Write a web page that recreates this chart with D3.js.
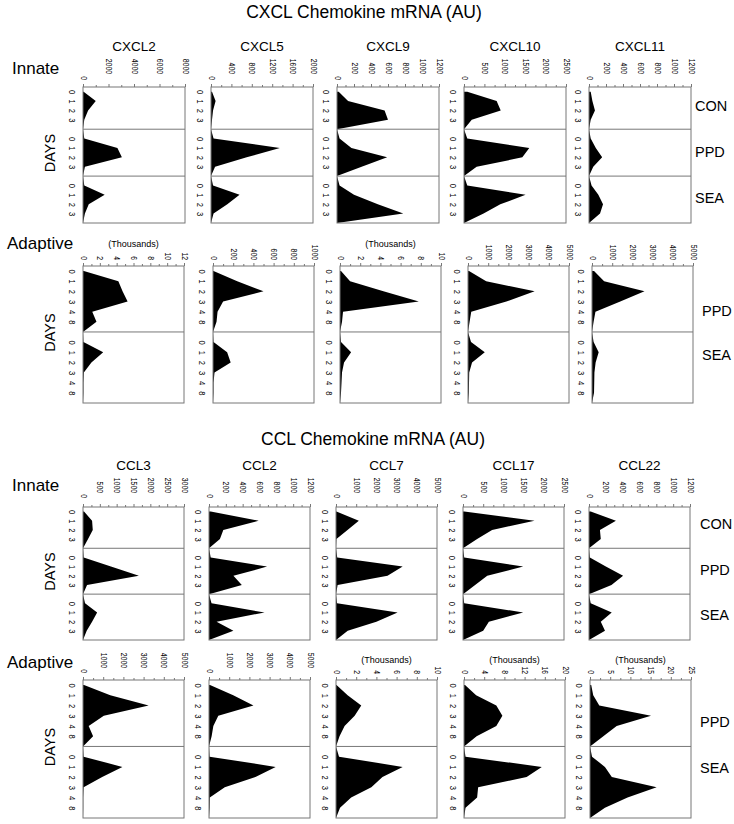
<!DOCTYPE html>
<html><head><meta charset="utf-8">
<script src="https://cdn.jsdelivr.net/npm/d3@7"></script>
<style>
body{margin:0;background:#fff;}
text{font-family:"Liberation Sans",Arial,sans-serif;fill:#000;}
</style></head><body>
<svg id="chart" width="734" height="824"></svg>
<script>
// ---------- DATA ----------
const cxclGenes = ["CXCL2","CXCL5","CXCL9","CXCL10","CXCL11"];
const cclGenes  = ["CCL3","CCL2","CCL7","CCL17","CCL22"];
const innateDays   = ["0","1","2","3"];
const adaptiveDays = ["0","1","2","3","4","8"];
const innateGroups   = ["CON","PPD","SEA"];
const adaptiveGroups = ["PPD","SEA"];

const cxclInnateTicks = [[0,2000,4000,6000,8000],[0,400,800,1200,1600,2000],[0,200,400,600,800,1000,1200],[0,500,1000,1500,2000,2500],[0,200,400,600,800,1000,1200]];
const cxclAdaptiveTicks = [[0,2,4,6,8,10,12],[0,200,400,600,800,1000],[0,2,4,6,8,10],[0,1000,2000,3000,4000,5000],[0,1000,2000,3000,4000,5000]];
const cxclAdaptiveUnits = ["(Thousands)","","(Thousands)","",""];
const cclInnateTicks = [[0,500,1000,1500,2000,2500,3000],[0,200,400,600,800,1000,1200],[0,1000,2000,3000,4000,5000],[0,500,1000,1500,2000,2500],[0,200,400,600,800,1000,1200]];
const cclAdaptiveTicks = [[0,1000,2000,3000,4000,5000],[0,1000,2000,3000,4000,5000],[0,2,4,6,8,10],[0,4,8,12,16,20],[0,5,10,15,20,25]];
const cclAdaptiveUnits = ["","","(Thousands)","(Thousands)","(Thousands)"];

// values per gene (rows follow gene order), per day
const cxclInnateCON = [[50,1000,400,100],[20,90,40,20],[20,130,560,600],[80,800,900,190],[20,40,70,20]];
const cxclInnatePPD = [[100,2700,3050,150],[50,1350,700,80],[30,170,590,290],[80,1600,1430,310],[20,80,155,50]];
const cxclInnateSEA = [[100,1700,450,150],[40,560,320,50],[30,200,480,780],[80,1510,890,480],[30,110,165,130]];

const cxclAdaptivePPD = [[0.1,4.2,4.7,5.3,1.1,1.6],[5,240,500,100,45,35],[0.1,1.0,4.3,7.8,0.3,0.2],[50,900,3300,1900,160,80],[100,600,2600,1400,170,80]];
const cxclAdaptiveSEA = [[0.05,2.4,1.0,0.1,0.05,0.05],[5,140,175,15,5,5],[0.1,1.1,0.4,0.2,0.15,0.1],[150,830,200,60,50,40],[80,330,180,120,110,100]];

const cclInnateCON = [[30,270,290,150],[20,590,170,130],[20,1130,570,20],[30,1770,720,350],[20,320,130,140]];
const cclInnatePPD = [[20,830,1660,120],[20,690,290,390],[60,3300,2550,80],[30,1490,600,300],[10,200,405,267]];
const cclInnateSEA = [[60,420,270,110],[30,660,90,290],[50,3050,2000,580],[30,1490,640,500],[20,270,140,190]];

const cclAdaptivePPD = [[50,1350,3250,1030,280,500],[50,1200,2200,460,215,130],[0.05,1.15,2.5,1.85,0.85,0.35],[0.2,2.4,6.4,7.6,6.4,2.5],[0.3,0.8,2.3,15.1,6.6,3.3]];
const cclAdaptiveSEA = [[30,1950,950,30,10,10],[30,3300,2300,780,40,30],[0.3,6.6,4.6,3.5,1.5,0.4],[0.3,15.4,12.4,2.8,2.6,0.3],[0.5,3.7,5.4,16.5,9.3,3.7]];

// ---------- LAYOUT ----------
const svg = d3.select("#chart");
const GRAY = "#777";

const blocks = [
  {genes:cxclGenes, lefts:[83,211,337,464,589], w:102, top:87, h:136, ticks:cxclInnateTicks, units:null,
   data:[cxclInnateCON,cxclInnatePPD,cxclInnateSEA], days:innateDays, groups:innateGroups,
   groupY:[111,157,203], groupX:695, row:"Innate", rowX:12, rowY:73.5, geneY:51,
   labOff:[[13,7],[13,7],[13,7],[13,7],[13,7]]},
  {genes:null, lefts:[83,213,340,468,592], w:101, top:266, h:137, ticks:cxclAdaptiveTicks, units:cxclAdaptiveUnits, unitY:247,
   data:[cxclAdaptivePPD,cxclAdaptiveSEA], days:adaptiveDays, groups:adaptiveGroups,
   groupY:[316,360], groupX:702, row:"Adaptive", rowX:7, rowY:249,
   labOff:[[6,6],[6,6],[6,6],[6,6],[6,6]]},
  {genes:cclGenes, lefts:[83,209,336,463,589], w:101, top:507, h:133, ticks:cclInnateTicks, units:null,
   data:[cclInnateCON,cclInnatePPD,cclInnateSEA], days:innateDays, groups:innateGroups,
   groupY:[529,575,620], groupX:700, row:"Innate", rowX:12, rowY:491, geneY:470,
   labOff:[[14,9],[14,9],[14,9],[14,9],[14,9]]},
  {genes:null, lefts:[83,209,336,464,590], w:101, top:680, h:138, ticks:cclAdaptiveTicks, units:cclAdaptiveUnits, unitY:663,
   data:[cclAdaptivePPD,cclAdaptiveSEA], days:adaptiveDays, groups:adaptiveGroups,
   groupY:[727,773], groupX:700, row:"Adaptive", rowX:7, rowY:668,
   labOff:[[12,7],[12,7],[6,6],[6,6],[6,6]]}
];

svg.append("text").attr("x",364).attr("y",18).attr("text-anchor","middle")
  .attr("font-size",17.5).text("CXCL Chemokine mRNA (AU)");
svg.append("text").attr("x",373).attr("y",445).attr("text-anchor","middle")
  .attr("font-size",17.5).text("CCL Chemokine mRNA (AU)");

function drawPanel(left, top, width, height, ticks, groupVals, days, labOff) {
  const max = ticks[ticks.length-1];
  const x = d3.scaleLinear().domain([0,max]).range([left, left+width]);
  const per = days.length + 1;
  const N = groupVals.length * per;
  const s = height / (N - 0.5);
  const y = d3.scalePoint().domain(d3.range(N)).range([top + 0.5*s, top + height]);
  const pts = [];
  groupVals.forEach((vals, gi) => {
    vals.forEach((v, di) => pts.push({i: gi*per + di, v}));
    pts.push({i: gi*per + days.length, v: 0});
  });
  const g = svg.append("g");
  g.append("path").datum(pts)
    .attr("d", d3.area().x0(x(0)).x1(d => x(d.v)).y(d => y(d.i)))
    .attr("fill","#000");
  for (let gi = 0; gi < groupVals.length - 1; gi++) {
    const yy = y(gi*per + days.length);
    g.append("line").attr("x1",left).attr("x2",left+width).attr("y1",yy).attr("y2",yy)
      .attr("stroke",GRAY).attr("stroke-width",1);
  }
  g.append("rect").attr("x",left).attr("y",top).attr("width",width).attr("height",height)
    .attr("fill","none").attr("stroke",GRAY).attr("stroke-width",1);

  // value axis on top
  const ax = g.append("g").attr("transform",`translate(0,${top})`)
    .call(d3.axisTop(x).tickValues(ticks).tickSize(3).tickPadding(0).tickFormat(d3.format("d")));
  ax.select(".domain").remove();
  ax.selectAll(".tick line").attr("stroke",GRAY);
  ax.selectAll(".tick text")
    .attr("x",0).attr("y",0).attr("dy",null)
    .attr("transform", d => `translate(0,${d === 0 ? -labOff[1] : -labOff[0]}) rotate(90) scale(0.72,1)`)
    .attr("text-anchor","end").attr("dominant-baseline","central")
    .attr("font-size",9.5).attr("font-family","Liberation Sans, Arial, sans-serif").attr("fill","#111");
  const step = ticks[1] - ticks[0];
  const minor = ticks.slice(0,-1).map(t => t + step/2);
  const mx = g.append("g").attr("transform",`translate(0,${top})`)
    .call(d3.axisTop(x).tickValues(minor).tickSize(2).tickFormat(""));
  mx.select(".domain").remove();
  mx.selectAll(".tick line").attr("stroke",GRAY);

  // day axis on left
  const dayIdx = [];
  groupVals.forEach((vals, gi) => days.forEach((d, di) => dayIdx.push(gi*per + di)));
  const ay = g.append("g").attr("transform",`translate(${left-11},0)`)
    .call(d3.axisLeft(y).tickValues(dayIdx).tickSize(0).tickPadding(0).tickFormat(i => days[i % per]));
  ay.select(".domain").remove();
  ay.selectAll(".tick text")
    .attr("x",0).attr("dy",null)
    .attr("transform","rotate(90) scale(0.8,1)")
    .attr("text-anchor","middle").attr("dominant-baseline","central")
    .attr("font-size",9.5).attr("font-family","Liberation Sans, Arial, sans-serif").attr("fill","#111");
}

blocks.forEach(b => {
  b.lefts.forEach((left, k) => {
    const groupVals = b.data.map(arr => arr[k]);
    drawPanel(left, b.top, b.w, b.h, b.ticks[k], groupVals, b.days, b.labOff[k]);
    if (b.genes) {
      svg.append("text").attr("x", left + b.w/2).attr("y", b.geneY)
        .attr("text-anchor","middle").attr("font-size",13.5).text(b.genes[k]);
    }
    if (b.units && b.units[k]) {
      svg.append("text").attr("x", left + b.w/2).attr("y", b.unitY)
        .attr("text-anchor","middle").attr("font-size",9).text(b.units[k]);
    }
  });
  b.groups.forEach((gn, gi) => {
    svg.append("text").attr("x", b.groupX).attr("y", b.groupY[gi])
      .attr("font-size",14.5).text(gn);
  });
  svg.append("text").attr("x", b.rowX).attr("y", b.rowY).attr("font-size",17).text(b.row);
  svg.append("text").attr("transform",`translate(50,${b.top + b.h/2 - 2}) rotate(-90)`)
    .attr("text-anchor","middle").attr("dominant-baseline","central")
    .attr("font-size",14.5).text("DAYS");
});
</script>
</body></html>
